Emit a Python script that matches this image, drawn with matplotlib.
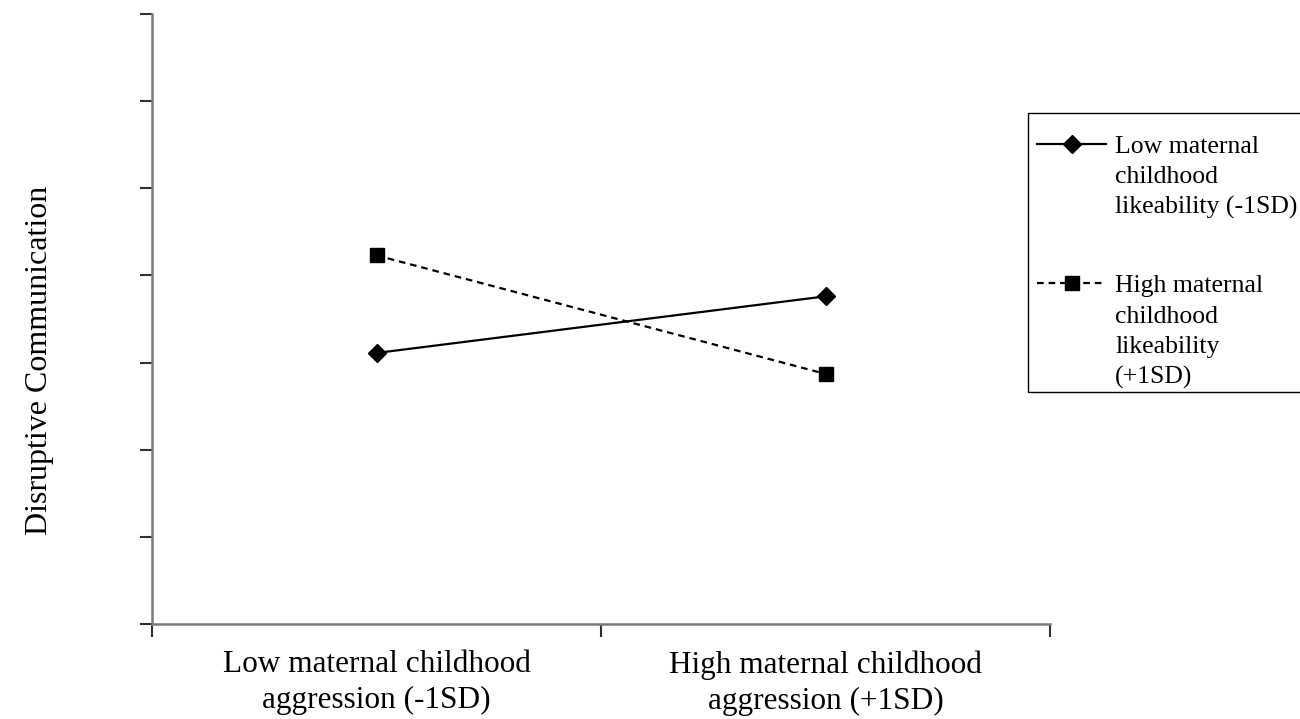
import numpy as np
import matplotlib
matplotlib.use("Agg")
import matplotlib.pyplot as plt
from matplotlib.lines import Line2D
from matplotlib.patches import Rectangle
from matplotlib.ticker import FixedLocator, NullFormatter

plt.rcParams["font.family"] = ["Liberation Serif", "DejaVu Serif"]

categorias = ["Low maternal childhood\naggression (-1SD)", "High maternal childhood\naggression (+1SD)"]
serie_baixa = [3.11, 3.76]
serie_alta = [4.23, 2.87]
rotulos_baixa = ["Low maternal", "childhood", "likeability (-1SD)"]
rotulos_alta = ["High maternal", "childhood", "likeability", "(+1SD)"]
eixo_y = "Disruptive Communication"

W, H = 1300, 719
fig = plt.figure(figsize=(W/100, H/100), dpi=100)
ax = fig.add_axes([152/W, 1-624/H, (1050-152)/W, (624-14)/H])

x = np.array([0.5, 1.5])
l1, = ax.plot(x, serie_baixa, color="black", lw=1.6, marker="D", markersize=9)
l2, = ax.plot(x, serie_alta, color="black", lw=1.6, ls=(0, (3, 2.2)), marker="s", markersize=10.5)

ax.set_xlim(0, 2)
ax.set_ylim(0, 7)
ax.set_yticks(np.arange(0, 8))
ax.yaxis.set_major_formatter(NullFormatter())
ax.xaxis.set_major_locator(FixedLocator([0, 1, 2]))
ax.xaxis.set_major_formatter(NullFormatter())
ax.xaxis.set_minor_locator(FixedLocator(x))
ax.set_xticklabels(categorias, minor=True, fontsize=22.5, linespacing=1.3)
ax.tick_params(axis="x", which="minor", length=0, pad=19)
ax.tick_params(axis="both", which="major", length=9, width=1.5, color="#303030")
for lado in ["top", "right"]:
    ax.spines[lado].set_visible(False)
for lado in ["left", "bottom"]:
    ax.spines[lado].set_color("#7a7a7a")
    ax.spines[lado].set_linewidth(1.8)

fig.text(40/W, 1-360/H, eixo_y, rotation=90, fontsize=23, ha="center", va="center")

# legenda: uma linha por entrada, alças só na primeira linha de cada série
vazio = Line2D([], [], linestyle="none")
handles = [l1] + [vazio]*(len(rotulos_baixa)-1) + [vazio] + [l2] + [vazio]*(len(rotulos_alta)-1)
labels = rotulos_baixa + [" "] + rotulos_alta
leg = fig.legend(handles, labels, loc="upper left", bbox_to_anchor=(1037/W, 1-135/H),
                 fontsize=18.5, frameon=False, handlelength=2.7, handletextpad=0.35,
                 labelspacing=0.29, borderpad=0, borderaxespad=0)
leg.get_texts()[len(rotulos_baixa)].set_fontsize(32)
fig.add_artist(Rectangle((1028/W, 1-392/H), 300/W, (392-113)/H, transform=fig.transFigure,
                         facecolor="none", edgecolor="black", linewidth=1.0))

fig.savefig("out.png", dpi=100)
